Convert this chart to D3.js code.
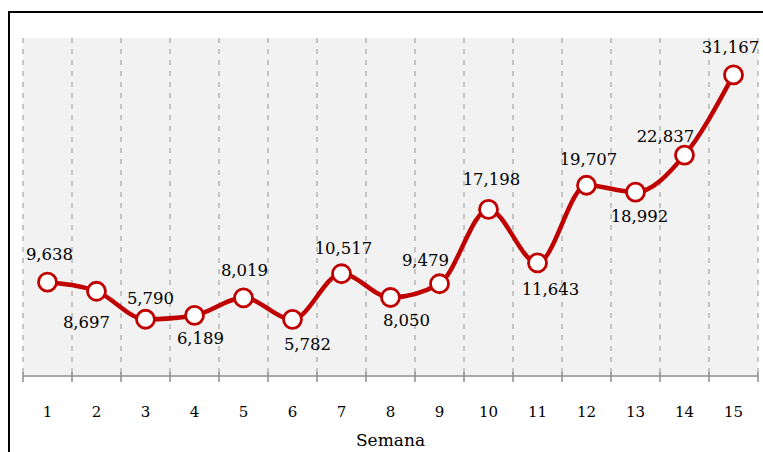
<!DOCTYPE html>
<html>
<head>
<meta charset="utf-8">
<script src="https://cdn.jsdelivr.net/npm/d3@7"></script>
<style>
  body { margin:0; background:#fff; }
  svg { display:block; }
</style>
</head>
<body>
<div class="canvas"></div>
<script>
// weekly values
const semanas = ["1","2","3","4","5","6","7","8","9","10","11","12","13","14","15"];
const valores = [9638, 8697, 5790, 6189, 8019, 5782, 10517, 8050, 9479, 17198, 11643, 19707, 18992, 22837, 31167];

// label offsets from each point (layout only)
const labelDx = [2, -10, 5, 6, 1, 15, 2, 16, -14, 3, 13, 2, 4, -19, -3];
const labelDy = [-28, 31, -21, 23, -28, 25, -26, 23, -24, -30, 26, -26, 24, -19, -28];

const dim = { width: 763, height: 452 };
const plot = { left: 23, right: 758, top: 38, bottom: 375 };

let svg = d3.select(".canvas").append("svg")
  .attr("width", dim.width).attr("height", dim.height);

// frame (left + top)
svg.append("path")
  .attr("d", `M9,${dim.height} L9,12 L${dim.width},12`)
  .attr("fill", "none").attr("stroke", "#000").attr("stroke-width", 2);

const x = d3.scaleBand().domain(semanas).range([plot.left, plot.right]);
const y = d3.scaleLinear().domain([0, 35000]).range([plot.bottom, plot.top]);

svg.append("rect")
  .attr("x", plot.left).attr("y", plot.top)
  .attr("width", plot.right - plot.left).attr("height", plot.bottom - plot.top)
  .attr("fill", "#f2f2f2");

// dashed separators at band edges
const edges = semanas.map(d => x(d)).concat([x(semanas[semanas.length-1]) + x.bandwidth()]);
svg.append("g").selectAll("line").data(edges).join("line")
  .attr("x1", d => d).attr("x2", d => d)
  .attr("y1", plot.top).attr("y2", plot.bottom)
  .attr("stroke", "#a6a6a6").attr("stroke-width", 1.2)
  .attr("stroke-dasharray", "5,6");

// x axis
const ax = svg.append("g").attr("transform", `translate(0,${plot.bottom + 1})`);
ax.append("line").attr("x1", plot.left).attr("x2", plot.right)
  .attr("stroke", "#8c8c8c").attr("stroke-width", 1.5);
ax.selectAll(".tk").data(edges).join("line").attr("class","tk")
  .attr("x1", d => d).attr("x2", d => d).attr("y1", -4).attr("y2", 6)
  .attr("stroke", "#8c8c8c").attr("stroke-width", 1.5);
ax.selectAll("text").data(semanas).join("text")
  .attr("x", d => x(d) + x.bandwidth()/2)
  .attr("y", 41)
  .attr("text-anchor", "middle")
  .attr("font-family", "DejaVu Serif").attr("font-size", 15)
  .attr("fill", "#000")
  .text(d => d);

svg.append("text")
  .attr("x", (plot.left + plot.right)/2).attr("y", 446)
  .attr("text-anchor", "middle")
  .attr("font-family", "DejaVu Serif").attr("font-size", 17)
  .attr("fill", "#000")
  .text("Semana");

const data = semanas.map((s, i) => ({ s, v: valores[i], dx: labelDx[i], dy: labelDy[i] }));
const cx = d => x(d.s) + x.bandwidth()/2;

const line = d3.line().x(cx).y(d => y(d.v)).curve(d3.curveMonotoneX);
svg.append("path").datum(data)
  .attr("d", line)
  .attr("fill", "none").attr("stroke", "#c00000").attr("stroke-width", 4.5)
  .attr("stroke-linejoin", "round");

svg.append("g").selectAll("circle").data(data).join("circle")
  .attr("cx", cx).attr("cy", d => y(d.v)).attr("r", 9)
  .attr("fill", "#fff").attr("stroke", "#c00000").attr("stroke-width", 2.8);

svg.append("g").selectAll("text").data(data).join("text")
  .attr("x", d => cx(d) + d.dx)
  .attr("y", d => y(d.v) + d.dy)
  .attr("dy", "0.36em")
  .attr("text-anchor", "middle")
  .attr("font-family", "DejaVu Serif").attr("font-size", 16.5)
  .attr("fill", "#000")
  .text(d => d3.format(",")(d.v));
</script>
</body>
</html>
